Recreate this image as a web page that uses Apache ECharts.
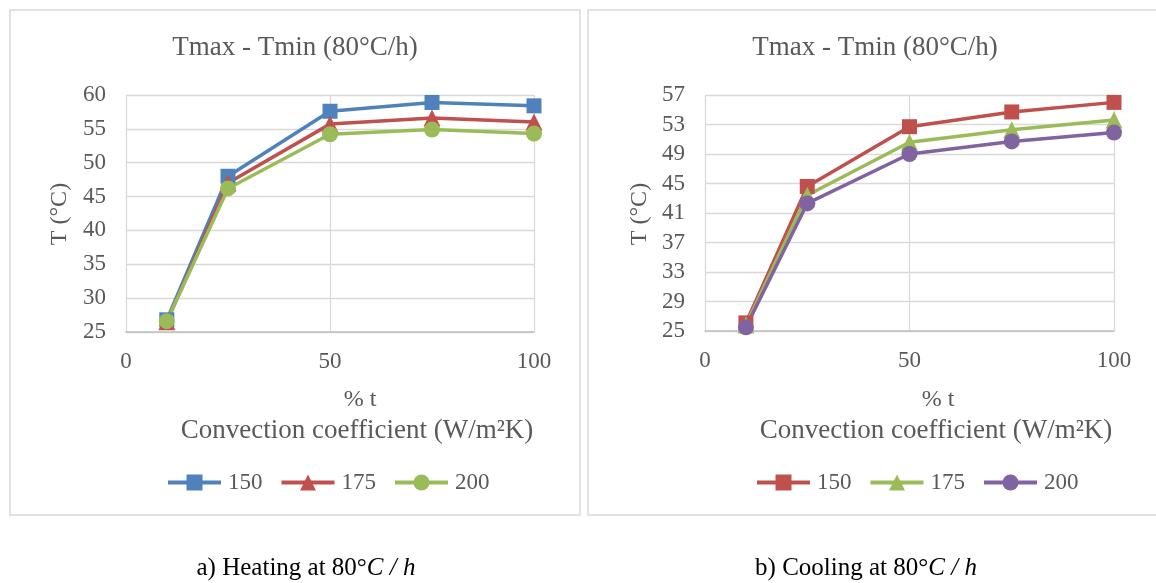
<!DOCTYPE html>
<html>
<head>
<meta charset="utf-8">
<script src="https://cdn.jsdelivr.net/npm/echarts@6/dist/echarts.min.js"></script>
<style>
  html, body { margin: 0; padding: 0; background: #fff; }
  #main { width: 1156px; height: 583px; }
</style>
</head>
<body>
<div id="main"></div>
<script>
// % t positions shared by both panels
var xPoints = [10, 25, 50, 75, 100];
var seriesNames = ['150', '175', '200'];

// a) heating
var heat150 = [26.8, 48.0, 57.6, 58.9, 58.4];
var heat175 = [26.5, 47.0, 55.7, 56.6, 56.0];
var heat200 = [26.6, 46.2, 54.2, 54.9, 54.3];

// b) cooling
var cool150 = [26.1, 44.6, 52.7, 54.7, 56.0];
var cool175 = [25.8, 43.4, 50.6, 52.3, 53.6];
var cool200 = [25.5, 42.3, 49.0, 50.7, 51.9];

var heatTicks = [25, 30, 35, 40, 45, 50, 55, 60];
var coolTicks = [25, 29, 33, 37, 41, 45, 49, 53, 57];

var FONT = '"Liberation Serif", "Times New Roman", serif';
var GREY = '#595959';
var GRID = '#d9d9d9';

function pairs(ys) {
  return xPoints.map(function (x, i) { return [x, ys[i]]; });
}

var SIZES = { rect: 15, triangle: 17, circle: 16 };

function lineSeries(name, idx, ys, color, symbol) {
  return {
    name: name, type: 'line', xAxisIndex: idx, yAxisIndex: idx,
    data: pairs(ys), symbol: symbol, symbolSize: SIZES[symbol],
    lineStyle: { color: color, width: 3.5 },
    itemStyle: { color: color },
    z: 3
  };
}

function xAxis(idx) {
  return {
    type: 'value', gridIndex: idx, min: 0, max: 100, interval: 50,
    axisLine: { show: true, lineStyle: { color: '#bfbfbf', width: 1.5 } },
    axisTick: { show: false },
    splitLine: { show: true, lineStyle: { color: GRID, width: 1.3 } },
    axisLabel: { color: GREY, fontFamily: FONT, fontSize: 23, margin: 18 }
  };
}

function yAxis(idx, ticks) {
  return {
    type: 'value', gridIndex: idx, min: ticks[0], max: ticks[ticks.length - 1],
    axisLine: { show: false },
    axisTick: { show: false, customValues: ticks },
    splitLine: { show: true, lineStyle: { color: GRID, width: 1.3 } },
    axisLabel: { color: GREY, fontFamily: FONT, fontSize: 23, margin: 20, customValues: ticks }
  };
}

function txt(x, y, text, size, color, extra) {
  var o = {
    type: 'text', x: x, y: y,
    style: { text: text, font: size + 'px ' + FONT, fill: color, align: 'center', verticalAlign: 'middle' }
  };
  if (extra) { for (var k in extra) o[k] = extra[k]; }
  return o;
}

function legend(left, data) {
  return {
    data: data, left: left, top: 466,
    itemWidth: 53, itemHeight: 20, itemGap: 17,
    lineStyle: { width: 4 },
    formatter: function (n) { return n.replace('b', ''); },
    textStyle: { color: GREY, fontFamily: FONT, fontSize: 23, padding: [0, 0, 0, 2] }
  };
}

function caption(x, label) {
  return {
    type: 'text', x: x, y: 568,
    style: {
      text: '{n|' + label + ' at 80°}{i|C / h}',
      align: 'center', verticalAlign: 'middle',
      rich: {
        n: { font: '25px ' + FONT, fill: '#000' },
        i: { font: 'italic 25px ' + FONT, fill: '#000' }
      }
    }
  };
}

var chart = echarts.init(document.getElementById('main'));
chart.setOption({
  animation: false,
  backgroundColor: '#fff',
  grid: [
    { left: 126, top: 95, width: 408, height: 237 },
    { left: 705, top: 95, width: 409, height: 236 }
  ],
  xAxis: [xAxis(0), xAxis(1)],
  yAxis: [yAxis(0, heatTicks), yAxis(1, coolTicks)],
  legend: [
    legend(161, seriesNames),
    legend(750, seriesNames.map(function (n) { return 'b' + n; }))
  ],
  series: [
    lineSeries('150', 0, heat150, '#4f81bd', 'rect'),
    lineSeries('175', 0, heat175, '#c0504d', 'triangle'),
    lineSeries('200', 0, heat200, '#9bbb59', 'circle'),
    lineSeries('b150', 1, cool150, '#c0504d', 'rect'),
    lineSeries('b175', 1, cool175, '#9bbb59', 'triangle'),
    lineSeries('b200', 1, cool200, '#8064a2', 'circle')
  ],
  graphic: [
    { type: 'rect', shape: { x: 10, y: 10, width: 570, height: 505 },
      style: { fill: 'none', stroke: GRID, lineWidth: 1.5 }, z: -1 },
    { type: 'rect', shape: { x: 588, y: 10, width: 580, height: 505 },
      style: { fill: 'none', stroke: GRID, lineWidth: 1.5 }, z: -1 },
    txt(295, 48, 'Tmax - Tmin (80°C/h)', 27, GREY),
    txt(875, 48, 'Tmax - Tmin (80°C/h)', 27, GREY),
    txt(60, 214, 'T (°C)', 24, GREY, { rotation: Math.PI / 2 }),
    txt(640, 214, 'T (°C)', 24, GREY, { rotation: Math.PI / 2 }),
    txt(360, 400, '% t', 24, GREY),
    txt(938, 400, '% t', 24, GREY),
    txt(357, 431, 'Convection coefficient (W/m²K)', 27, GREY),
    txt(936, 431, 'Convection coefficient (W/m²K)', 27, GREY),
    caption(306, 'a) Heating'),
    caption(866, 'b) Cooling')
  ]
});
</script>
</body>
</html>
